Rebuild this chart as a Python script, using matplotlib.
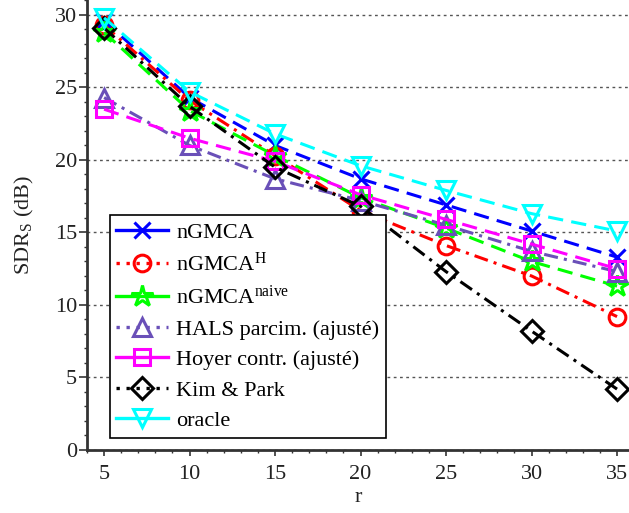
import matplotlib
matplotlib.use("Agg")
import matplotlib.pyplot as plt
from matplotlib.lines import Line2D
from matplotlib.ticker import MultipleLocator

plt.rcParams['font.family'] = ['Liberation Serif', 'DejaVu Serif']
plt.rcParams['mathtext.fontset'] = 'custom'
plt.rcParams['mathtext.rm'] = 'Liberation Serif'
plt.rcParams['mathtext.it'] = 'Liberation Serif:italic'

r = [5, 10, 15, 20, 25, 30, 35]
ngmca = [29.6, 24.3, 21.0, 18.7, 16.9, 15.1, 13.3]
ngmca_h = [29.3, 24.1, 20.3, 16.5, 14.1, 12.0, 9.2]
ngmca_naive = [28.8, 23.4, 20.3, 17.4, 15.3, 13.0, 11.3]
hals = [24.3, 21.0, 18.7, 17.2, 15.5, 13.7, 12.3]
hoyer = [23.5, 21.5, 19.9, 17.6, 15.9, 14.2, 12.5]
kim_park = [29.1, 23.7, 19.5, 16.8, 12.3, 8.2, 4.2]
oracle = [29.8, 24.7, 21.8, 19.6, 17.9, 16.3, 15.1]

labels = ['nGMCA', r'nGMCA$^{\mathrm{H}}$', r'nGMCA$^{\mathrm{naive}}$',
          'HALS parcim. (ajusté)', 'Hoyer contr. (ajusté)', 'Kim & Park', 'oracle']

series = [ngmca, ngmca_h, ngmca_naive, hals, hoyer, kim_park, oracle]
colors = ['#0000ff', '#ff0000', '#00ff00', '#6a50b8', '#ff00ff', '#000000', '#00ffff']
markers = ['x', 'o', '*', '^', 's', 'D', 'v']
msizes = [11, 12, 16, 13, 11, 11, 13]
dash = (0, (5, 2.7))
dashdot = (0, (4.6, 2, 1, 2))
styles = [dash, dashdot, dash, dashdot, dash, dashdot, dash]
leg_styles = ['-', (0, (1, 2)), '-', (0, (1, 2)), '-', (0, (1, 2)), '-']

fig = plt.figure(figsize=(6.29, 5.13), dpi=100)
ax = fig.add_axes([87/629, 63/513, 1 - 87/629, 1 - 63/513])

FS = 16
handles = []
for y, c, m, ms, ls, lls in zip(series, colors, markers, msizes, styles, leg_styles):
    mew = 2.2
    ax.plot(r, y, color=c, linestyle=ls, linewidth=2.2, marker=m, markersize=ms,
            markerfacecolor='none', markeredgecolor=c, markeredgewidth=mew, zorder=3)
    handles.append(Line2D([], [], color=c, linestyle=lls, linewidth=2.4, marker=m,
                          markersize=ms, markerfacecolor='none', markeredgecolor=c,
                          markeredgewidth=mew))

ax.set_xlim(4.0, 35.7)
ax.set_ylim(0, 31.03)
ax.set_xticks([5, 10, 15, 20, 25, 30, 35])
ax.set_yticks([0, 5, 10, 15, 20, 25, 30])
ax.xaxis.set_minor_locator(MultipleLocator(1))
ax.yaxis.set_minor_locator(MultipleLocator(1))
ax.tick_params(axis='both', which='major', direction='out', width=1.2,
               labelsize=FS, colors='#333333', labelcolor='#222222')
ax.tick_params(axis='both', which='minor', direction='out', length=2.5, width=1.0, colors='#333333')
ax.tick_params(axis='x', which='major', length=4, pad=7)
ax.tick_params(axis='y', which='major', length=6, pad=1)

for s in ['top', 'right']:
    ax.spines[s].set_visible(False)
for s in ['left', 'bottom']:
    ax.spines[s].set_linewidth(2.0)
    ax.spines[s].set_color('#333333')

ax.yaxis.grid(True, which='major', linestyle=(0, (2, 2.5)), color='#555555', linewidth=1.0)
ax.set_axisbelow(True)

ax.set_xlabel('r', fontsize=FS, labelpad=3, color='#222222')
ax.set_ylabel(r'SDR$_{\mathrm{S}}$ (dB)', fontsize=FS, color='#222222')
ax.yaxis.set_label_coords(-0.095, 0.5)

leg = ax.legend(handles, labels, loc='lower left', bbox_to_anchor=(0.042, 0.027),
                fontsize=FS, frameon=True, fancybox=False, edgecolor='black',
                framealpha=1, handlelength=2.3, handletextpad=0.4, labelspacing=0.45,
                borderpad=0.3, borderaxespad=0)
leg.get_frame().set_linewidth(1.2)

fig.savefig('out.png', dpi=100)
